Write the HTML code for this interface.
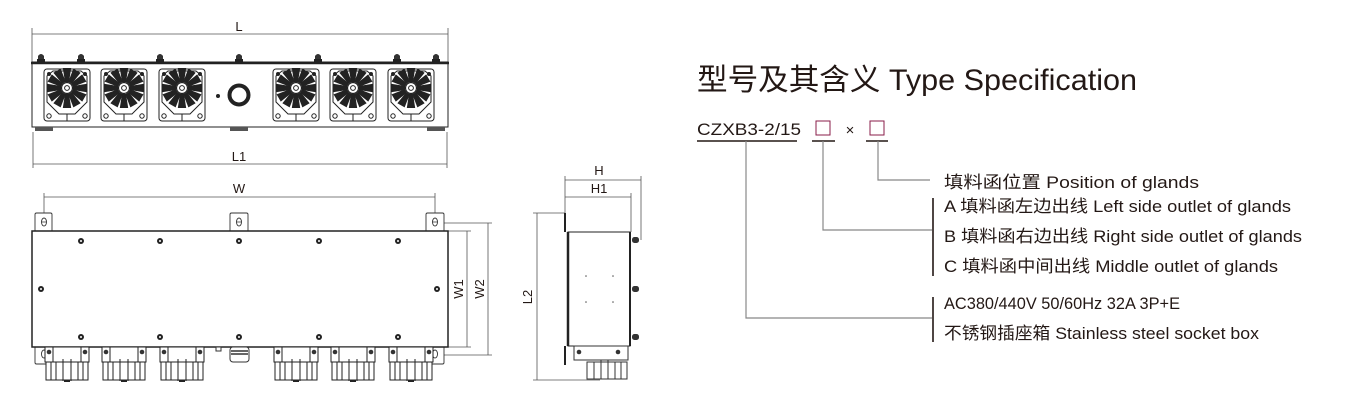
<!DOCTYPE html>
<html><head><meta charset="utf-8"><style>
html,body{margin:0;padding:0;background:#fff;width:1357px;height:420px;overflow:hidden}
svg{display:block}
.t{font-family:"Liberation Sans","Noto Sans CJK SC",sans-serif;fill:#231815}
</style></head><body>
<svg width="1357" height="420" viewBox="0 0 1357 420" xmlns="http://www.w3.org/2000/svg">
<defs>
<g id="spk"><path d="M-2,-6 L2,-6 L4.2,-20 L-4.2,-20 Z" fill="#222"/></g>
<g id="sock">
<rect x="-23" y="-19" width="46" height="52" rx="3" fill="#fff" stroke="#222" stroke-width="1"/>
<path d="M-20,-12 L-20,14 L-8,26 L8,26 L20,14 L20,-12 L14,-17 L-14,-17 Z" fill="none" stroke="#222" stroke-width="1"/>
<line x1="0" y1="26" x2="0" y2="33" stroke="#222" stroke-width="1"/>
<circle cx="-18" cy="-14" r="2" fill="#222"/><circle cx="18" cy="-14" r="2" fill="#222"/>
<circle cx="-18" cy="28" r="2.2" fill="none" stroke="#222"/><circle cx="18" cy="28" r="2.2" fill="none" stroke="#222"/>
<use href="#spk"/><use href="#spk" transform="rotate(30)"/><use href="#spk" transform="rotate(60)"/><use href="#spk" transform="rotate(90)"/>
<use href="#spk" transform="rotate(120)"/><use href="#spk" transform="rotate(150)"/><use href="#spk" transform="rotate(180)"/><use href="#spk" transform="rotate(210)"/>
<use href="#spk" transform="rotate(240)"/><use href="#spk" transform="rotate(270)"/><use href="#spk" transform="rotate(300)"/><use href="#spk" transform="rotate(330)"/>
<circle r="5.5" fill="#fff" stroke="#222" stroke-width="1.2"/><circle r="2.4" fill="none" stroke="#222"/>
</g>
<g id="bolt"><path d="M-3,9 L-3,3 Q0,-1 3,3 L3,9 Z" fill="#333"/><rect x="-4" y="6" width="8" height="3" fill="#222"/></g>
<g id="fsock">
<rect x="-22" y="0" width="44" height="15" fill="#fff" stroke="#222"/>
<line x1="-14" y1="0" x2="-14" y2="15" stroke="#222"/><line x1="14" y1="0" x2="14" y2="15" stroke="#222"/>
<circle cx="-18" cy="5" r="2.3" fill="#333"/><circle cx="18" cy="5" r="2.3" fill="#333"/>
<rect x="-21" y="15" width="42" height="18" fill="#fff" stroke="#222"/>
<path d="M-16,15v18M-11,15v18M-4,12v22M4,12v22M11,15v18M16,15v18" stroke="#222" stroke-width="1"/>
<rect x="-3" y="33" width="6" height="2" fill="#222"/>
</g>
<g id="scr"><circle r="3" fill="#222"/><circle r="1" fill="#fff"/></g>
</defs>

<!-- TOP VIEW -->
<g stroke="#555" stroke-width="0.8" fill="none">
<line x1="32" y1="34" x2="448" y2="34"/><line x1="32" y1="28" x2="32" y2="62"/><line x1="448" y1="28" x2="448" y2="62"/>
<line x1="33" y1="164" x2="447" y2="164"/><line x1="33" y1="132" x2="33" y2="168"/><line x1="447" y1="132" x2="447" y2="168"/>
</g>
<text class="t" x="239" y="31" font-size="13" text-anchor="middle">L</text>
<text class="t" x="239" y="161" font-size="13" text-anchor="middle">L1</text>
<use href="#bolt" x="41" y="53"/><use href="#bolt" x="81" y="53"/><use href="#bolt" x="160" y="53"/><use href="#bolt" x="239" y="53"/><use href="#bolt" x="318" y="53"/><use href="#bolt" x="397" y="53"/><use href="#bolt" x="436" y="53"/>
<rect x="32" y="62" width="416" height="65" fill="#fff" stroke="#222" stroke-width="1"/>
<line x1="31" y1="63" x2="449" y2="63" stroke="#222" stroke-width="2.5"/>
<rect x="35" y="127" width="18" height="4" fill="#555"/><rect x="230" y="127" width="18" height="4" fill="#555"/><rect x="427" y="127" width="18" height="4" fill="#555"/>
<use href="#sock" x="67" y="88"/><use href="#sock" x="124" y="88"/><use href="#sock" x="182" y="88"/>
<use href="#sock" x="296" y="88"/><use href="#sock" x="353" y="88"/><use href="#sock" x="411" y="88"/>
<circle cx="218" cy="96" r="2" fill="#222"/>
<circle cx="239" cy="95" r="9.5" fill="none" stroke="#222" stroke-width="4"/>

<!-- FRONT VIEW -->
<g stroke="#555" stroke-width="0.8" fill="none">
<line x1="44" y1="197" x2="435" y2="197"/><line x1="44" y1="193" x2="44" y2="214"/><line x1="435" y1="193" x2="435" y2="214"/>
<line x1="448" y1="231" x2="471" y2="231"/><line x1="448" y1="347" x2="471" y2="347"/><line x1="467" y1="231" x2="467" y2="347"/>
<line x1="440" y1="223" x2="492" y2="223"/><line x1="440" y1="355" x2="492" y2="355"/><line x1="488" y1="223" x2="488" y2="355"/>
</g>
<text class="t" x="239" y="193" font-size="13" text-anchor="middle">W</text>
<text class="t" font-size="13" text-anchor="middle" transform="translate(463,289) rotate(-90)">W1</text>
<text class="t" font-size="13" text-anchor="middle" transform="translate(484,289) rotate(-90)">W2</text>
<g fill="#fff" stroke="#333" stroke-width="0.9">
<rect x="35" y="213" width="17" height="20" rx="1.5"/><rect x="230" y="213" width="18" height="20" rx="1.5"/><rect x="426" y="213" width="18" height="20" rx="1.5"/>
<rect x="35" y="345" width="17" height="19" rx="1.5"/><rect x="426" y="345" width="18" height="19" rx="1.5"/>
<ellipse cx="44" cy="222" rx="2.5" ry="4"/><ellipse cx="239" cy="222" rx="2.5" ry="4"/><ellipse cx="435" cy="222" rx="2.5" ry="4"/>
<ellipse cx="44" cy="354" rx="2.5" ry="4"/><ellipse cx="435" cy="354" rx="2.5" ry="4"/>
</g>
<path d="M41.5,222h5M236.5,222h5M432.5,222h5" stroke="#333" stroke-width="0.8"/>
<rect x="32" y="231" width="416" height="116" fill="#fff" stroke="#222" stroke-width="1.5"/>
<use href="#scr" x="81" y="241"/><use href="#scr" x="160" y="241"/><use href="#scr" x="239" y="241"/><use href="#scr" x="319" y="241"/><use href="#scr" x="398" y="241"/>
<use href="#scr" x="81" y="337"/><use href="#scr" x="160" y="337"/><use href="#scr" x="239" y="337"/><use href="#scr" x="319" y="337"/><use href="#scr" x="398" y="337"/>
<use href="#scr" x="41" y="289"/><use href="#scr" x="437" y="289"/>
<use href="#fsock" x="67" y="347"/><use href="#fsock" x="124" y="347"/><use href="#fsock" x="182" y="347"/>
<use href="#fsock" x="296" y="347"/><use href="#fsock" x="353" y="347"/><use href="#fsock" x="411" y="347"/>
<rect x="216" y="347" width="5" height="4" fill="#fff" stroke="#333"/>
<rect x="230" y="347" width="19" height="15" rx="3" fill="#fff" stroke="#333"/><path d="M231,351h17M231,354h17" stroke="#333" stroke-width="1.5"/>

<!-- SIDE VIEW -->
<g stroke="#555" stroke-width="0.8" fill="none">
<line x1="565" y1="180" x2="641" y2="180"/><line x1="565" y1="176" x2="565" y2="213"/><line x1="641" y1="176" x2="641" y2="240"/>
<line x1="565" y1="197" x2="631" y2="197"/><line x1="631" y1="193" x2="631" y2="232"/>
<line x1="537" y1="213" x2="537" y2="380"/><line x1="533" y1="213" x2="565" y2="213"/><line x1="533" y1="380" x2="600" y2="380"/>
</g>
<text class="t" x="599" y="175" font-size="13" text-anchor="middle">H</text>
<text class="t" x="599" y="193" font-size="13" text-anchor="middle">H1</text>
<text class="t" font-size="13" text-anchor="middle" transform="translate(532,297) rotate(-90)">L2</text>
<path d="M565,213V232M565,346V365" stroke="#222" stroke-width="2"/>
<rect x="568" y="232" width="62" height="114" fill="#fff" stroke="#222" stroke-width="1"/>
<line x1="568" y1="232" x2="568" y2="346" stroke="#222" stroke-width="2.5"/>
<line x1="630" y1="232" x2="630" y2="346" stroke="#222" stroke-width="2"/>
<g fill="#555"><circle cx="586" cy="276" r="0.8"/><circle cx="613" cy="276" r="0.8"/><circle cx="586" cy="302" r="0.8"/><circle cx="613" cy="302" r="0.8"/></g>
<g fill="#333"><rect x="632" y="237" width="7" height="6" rx="2.5"/><rect x="632" y="286" width="7" height="6" rx="2.5"/><rect x="632" y="334" width="7" height="6" rx="2.5"/></g>
<rect x="574" y="346" width="54" height="14" fill="#fff" stroke="#333"/>
<circle cx="579" cy="352" r="2.3" fill="#333"/><circle cx="618" cy="352" r="2.3" fill="#333"/>
<rect x="587" y="362" width="40" height="17" fill="#fff" stroke="#333"/>
<path d="M594,362v17M601,360v19M608,360v19M615,362v17M621,362v17" stroke="#333"/>

<!-- SPEC -->
<text class="t" x="697" y="90" font-size="30" textLength="440" lengthAdjust="spacingAndGlyphs">型号及其含义 Type Specification</text>
<text class="t" x="697" y="135" font-size="17" textLength="104" lengthAdjust="spacingAndGlyphs">CZXB3-2/15</text>
<rect x="816" y="121" width="14" height="14" fill="none" stroke="#8a1e4a" stroke-width="1"/>
<text class="t" x="850" y="135" font-size="15" text-anchor="middle">×</text>
<rect x="870" y="121" width="14" height="14" fill="none" stroke="#8a1e4a" stroke-width="1"/>
<g stroke="#231815" stroke-width="1.6"><line x1="697" y1="141" x2="797" y2="141"/><line x1="812" y1="141" x2="835" y2="141"/><line x1="866" y1="141" x2="888" y2="141"/></g>
<g stroke="#888" stroke-width="1.2" fill="none">
<path d="M746,141V318H932"/><path d="M823,141V230H932"/><path d="M878,141V180H930"/>
</g>
<g stroke="#231815" stroke-width="1.6"><line x1="933" y1="198" x2="933" y2="276"/><line x1="933" y1="297" x2="933" y2="342"/></g>
<g class="t" font-size="17" lengthAdjust="spacingAndGlyphs">
<text x="944" y="188" textLength="255" lengthAdjust="spacingAndGlyphs">填料函位置 Position of glands</text>
<text x="944" y="212" textLength="347" lengthAdjust="spacingAndGlyphs">A 填料函左边出线 Left side outlet of glands</text>
<text x="944" y="242" textLength="358" lengthAdjust="spacingAndGlyphs">B 填料函右边出线 Right side outlet of glands</text>
<text x="944" y="272" textLength="334" lengthAdjust="spacingAndGlyphs">C 填料函中间出线 Middle outlet of glands</text>
<text x="944" y="309" textLength="236" lengthAdjust="spacingAndGlyphs">AC380/440V 50/60Hz 32A 3P+E</text>
<text x="944" y="339" textLength="315" lengthAdjust="spacingAndGlyphs">不锈钢插座箱 Stainless steel socket box</text>
</g>
</svg>
</body></html>
